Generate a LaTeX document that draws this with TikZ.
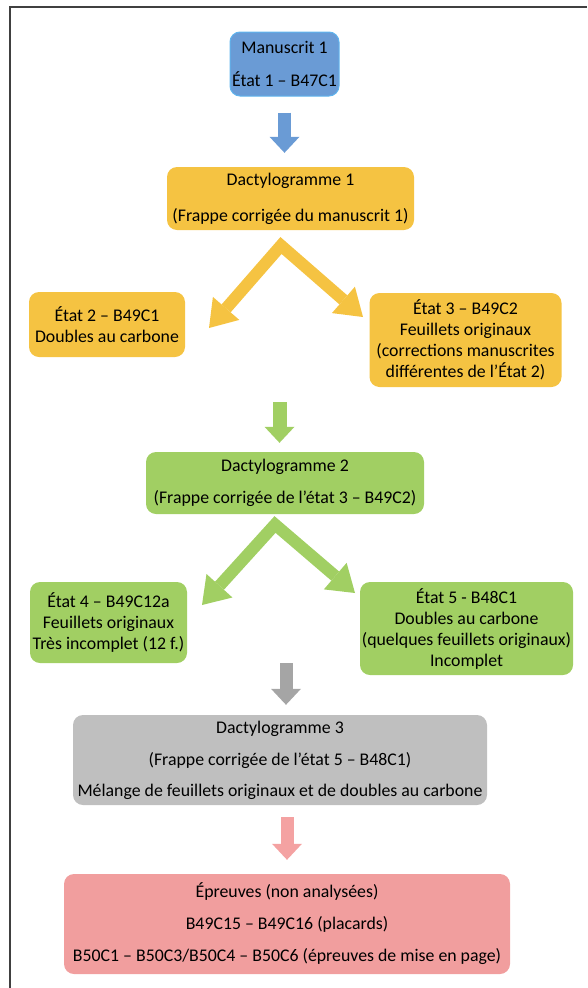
\documentclass[tikz,border=0pt]{standalone}
\usepackage{fontspec}
\setmainfont{Carlito}
\usepackage{xcolor}
\usetikzlibrary{arrows.meta}
\definecolor{mblue}{RGB}{106,155,213}
\definecolor{mblueline}{RGB}{95,180,238}
\definecolor{myellow}{RGB}{245,195,66}
\definecolor{mgreen}{RGB}{161,207,99}
\definecolor{mgray}{RGB}{191,191,191}
\definecolor{mgrayarrow}{RGB}{165,165,165}
\definecolor{mpink}{RGB}{241,158,158}
\definecolor{mpinkarrow}{RGB}{244,162,162}
\tikzset{
  stagenode/.style = {align=center, inner sep=0pt, rounded corners=10pt,
    font=\fontsize{17.8}{21}\selectfont, text=black},
  bluenode/.style = {stagenode, fill=mblue, draw=mblueline, line width=1pt},
  yellownode/.style = {stagenode, fill=myellow},
  greennode/.style = {stagenode, fill=mgreen},
  graynode/.style = {stagenode, fill=mgray},
  pinknode/.style = {stagenode, fill=mpink},
  downarrow/.style = {line width=13pt,
    -{Triangle[width=30pt,length=16pt,line width=0pt]}},
  splitarrow/.style = {line width=12pt, line join=miter,
    {Triangle[width=35pt,length=26pt,line width=0pt]}-{Triangle[width=35pt,length=26pt,line width=0pt]}}
}

\begin{document}
\begin{tikzpicture}[x=1pt,y=-1pt]
    \useasboundingbox (0,0) rectangle (587,988);
    \draw[line width=1.6pt, black!75] (10,988) -- (10,7) -- (587,7);

    % stages
    \node[bluenode, minimum width=109pt, minimum height=64pt] (manu) at (284.5,64)
      {Manuscrit 1\\[12pt]État 1 – B47C1};
    \node[yellownode, minimum width=247pt, minimum height=63pt] (dac1) at (290.5,198.5)
      {Dactylogramme 1\\[15pt](Frappe corrigée du manuscrit 1)};
    \node[yellownode, minimum width=156pt, minimum height=65pt] (etat2) at (107,324.5)
      {État 2 – B49C1\\Doubles au carbone};
    \node[yellownode, minimum width=192pt, minimum height=94pt] (etat3) at (465.5,340)
      {État 3 – B49C2\\Feuillets originaux\\(corrections manuscrites\\différentes de l’État 2)};
    \node[greennode, minimum width=278pt, minimum height=62pt] (dac2) at (285,483)
      {Dactylogramme 2\\[11pt](Frappe corrigée de l’état 3 – B49C2)};
    \node[greennode, minimum width=157pt, minimum height=81pt] (etat4) at (108.5,622.5)
      {État 4 – B49C12a\\Feuillets originaux\\Très incomplet (12 f.)};
    \node[greennode, minimum width=213pt, minimum height=93pt] (etat5) at (466.5,628.5)
      {État 5 - B48C1\\Doubles au carbone\\(quelques feuillets originaux)\\Incomplet};
    \node[graynode, minimum width=414pt, minimum height=90pt] (dac3) at (280,760)
      {Dactylogramme 3\\[11pt](Frappe corrigée de l’état 5 – B48C1)\\[10pt]Mélange de feuillets originaux et de doubles au carbone};
    \node[pinknode, minimum width=446pt, minimum height=100pt] (epr) at (287,924)
      {Épreuves (non analysées)\\[11pt]B49C15 – B49C16 (placards)\\[11pt]B50C1 – B50C3/B50C4 – B50C6 (épreuves de mise en page)};

    % arrows
    \coordinate (y-apex) at (281,245.5);
    \coordinate (y-left) at (209,328);
    \coordinate (y-right) at (363,317);
    \coordinate (g-top) at (279.5,402);
    \coordinate (g-apex) at (275,524.5);
    \coordinate (g-left) at (202,605);
    \coordinate (g-right) at (355,593);
    \coordinate (gr-top) at (286,663);

    \draw[downarrow, mblue, shorten <=16pt, shorten >=14pt]
      (manu.south) -- (manu.south |- dac1.north);
    \draw[splitarrow, myellow] (y-left) -- (y-apex) -- (y-right);
    \draw[downarrow, mgreen, line width=14pt, shorten >=9pt]
      (g-top) -- (g-top |- dac2.north);
    \draw[splitarrow, mgreen] (g-left) -- (g-apex) -- (g-right);
    \draw[downarrow, mgrayarrow, shorten >=10pt]
      (gr-top) -- (gr-top |- dac3.north);
    \draw[downarrow, mpinkarrow, shorten <=12pt, shorten >=14pt]
      (epr.north |- dac3.south) -- (epr.north);
  \end{tikzpicture}
\end{document}
